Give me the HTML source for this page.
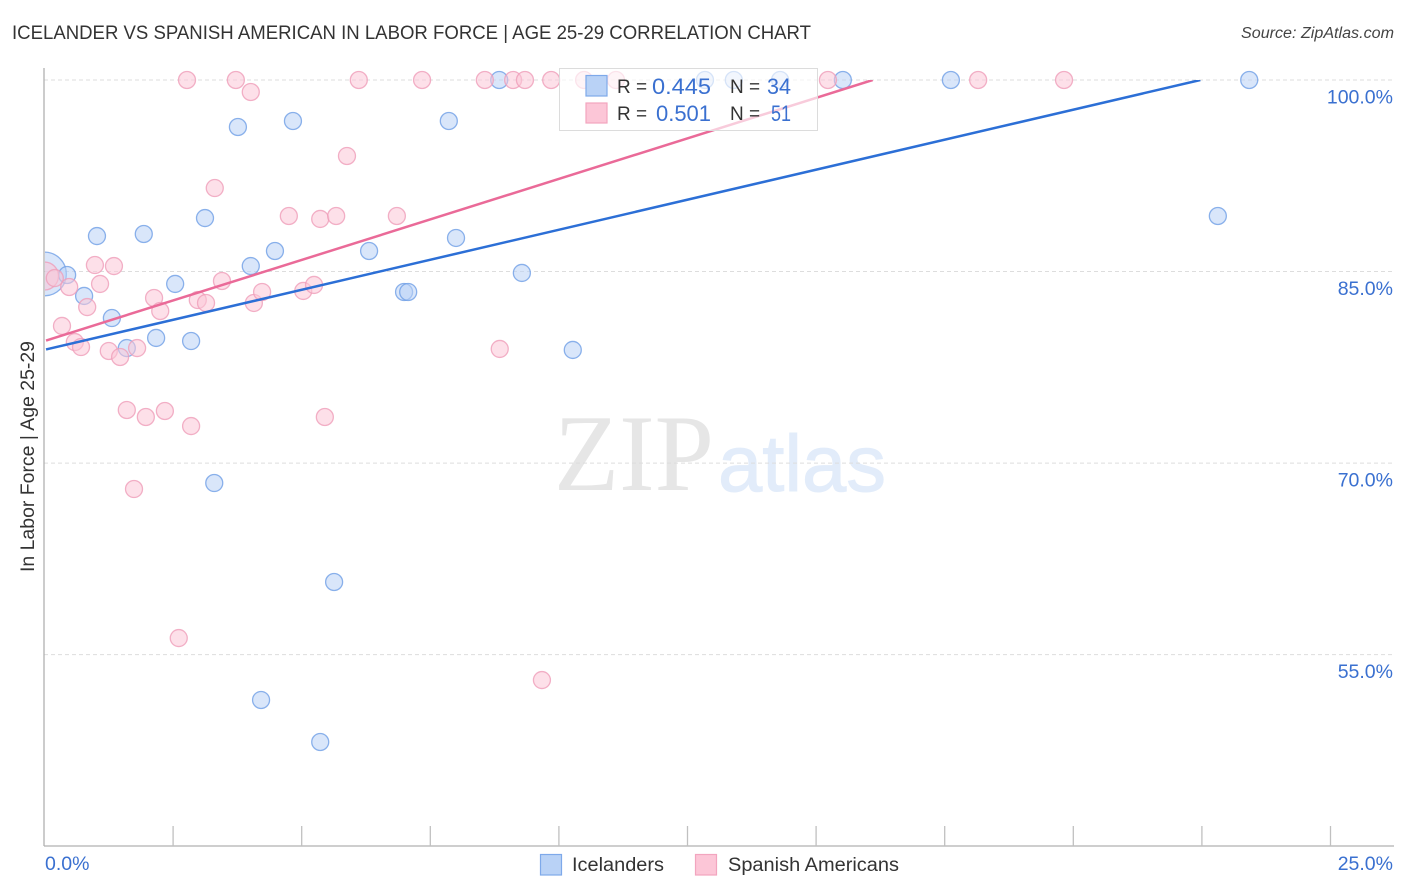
<!DOCTYPE html>
<html lang="en">
<head>
<meta charset="utf-8">
<title>Icelander vs Spanish American in Labor Force | Age 25-29 Correlation Chart</title>
<style>
html,body{margin:0;padding:0;background:#fff;width:1406px;height:892px;overflow:hidden}
svg{display:block;font-family:"Liberation Sans",sans-serif}
</style>
</head>
<body>
<svg id="chart" xmlns="http://www.w3.org/2000/svg" width="1406" height="892" viewBox="0 0 1406 892">
  <defs>
    <clipPath id="plot-clip"><rect x="45" y="80" width="1349" height="766"/></clipPath>
    <clipPath id="point-clip"><rect x="45" y="60" width="1349" height="786"/></clipPath>
  </defs>
  <text x="12" y="39" font-size="19" fill="#333" textLength="799" lengthAdjust="spacingAndGlyphs">ICELANDER VS SPANISH AMERICAN IN LABOR FORCE | AGE 25-29 CORRELATION CHART</text>
  <text x="1394" y="38" font-size="15.5" font-style="italic" fill="#444" text-anchor="end" textLength="153" lengthAdjust="spacingAndGlyphs">Source: ZipAtlas.com</text>
  <g id="watermark">
    <text x="554" y="490" font-family="'Liberation Serif',serif" font-size="109" fill="#e6e6e6" textLength="160" lengthAdjust="spacingAndGlyphs">ZIP</text>
    <text x="718" y="491" font-size="80" fill="#e2ecfa" stroke="#e2ecfa" stroke-width="1" textLength="168" lengthAdjust="spacingAndGlyphs">atlas</text>
  </g>
  <g id="grid"></g>
  <g id="points" clip-path="url(#point-clip)"></g>
  <rect x="0" y="240" width="44" height="70" fill="#fff"/>
  <g id="axes"></g>
  <g id="trends" clip-path="url(#plot-clip)"></g>
  <g id="stat-legend">
    <rect x="559.5" y="68.5" width="258" height="62" fill="#fff" fill-opacity="0.65" stroke="#dcdcdc" stroke-width="1"/>
    <rect x="586" y="75.5" width="21" height="20.5" fill="#b9d2f6" stroke="#7ea9ea" stroke-width="1.2"/>
    <rect x="586" y="103" width="21" height="20" fill="#fcc6d7" stroke="#f2a5bf" stroke-width="1.2"/>
    <text x="617" y="93" font-size="19" fill="#333">R =</text>
    <text x="652" y="94" font-size="22" fill="#3a70d0" textLength="59" lengthAdjust="spacingAndGlyphs">0.445</text>
    <text x="730" y="93" font-size="19" fill="#333">N =</text>
    <text x="767" y="94" font-size="22" fill="#3a70d0" textLength="24" lengthAdjust="spacingAndGlyphs">34</text>
    <text x="617" y="120" font-size="19" fill="#333">R =</text>
    <text x="656" y="121" font-size="22" fill="#3a70d0" textLength="55" lengthAdjust="spacingAndGlyphs">0.501</text>
    <text x="730" y="120" font-size="19" fill="#333">N =</text>
    <text x="771" y="121" font-size="22" fill="#3a70d0" textLength="20" lengthAdjust="spacingAndGlyphs">51</text>
  </g>
  <text transform="translate(34,572) rotate(-90)" font-size="19" fill="#333" textLength="231" lengthAdjust="spacingAndGlyphs">In Labor Force | Age 25-29</text>
  <g id="bottom-legend">
    <rect x="540.5" y="854.5" width="21" height="20.5" fill="#b9d2f6" stroke="#7ea9ea" stroke-width="1.2"/>
    <text x="572" y="871" font-size="19" fill="#333" textLength="92" lengthAdjust="spacingAndGlyphs">Icelanders</text>
    <rect x="695.5" y="854.5" width="21" height="20.5" fill="#fcc6d7" stroke="#f2a5bf" stroke-width="1.2"/>
    <text x="728" y="871" font-size="19" fill="#333" textLength="171" lengthAdjust="spacingAndGlyphs">Spanish Americans</text>
  </g>
</svg>
<script>
const blueX = [0,0.44,0.77,1.02,1.31,1.60,1.93,2.17,2.54,2.85,3.12,3.30,3.76,4.01,4.21,4.48,4.83,5.36,5.63,6.31,6.99,7.07,7.86,8.00,8.84,9.28,10.27,12.84,13.40,14.30,15.52,17.62,22.81,23.42];
const blueY = [84.81,84.73,83.09,87.78,81.36,79.01,87.94,79.80,84.03,79.56,89.19,68.44,96.32,85.43,51.45,86.61,96.79,48.16,60.69,86.61,83.40,83.40,96.79,87.63,100,84.89,78.86,100,100,100,100,100,89.35,100];
const blueWeight = [6.6,1,1,1,1,1,1,1,1,1,1,1,1,1,1,1,1,1,1,1,1,1,1,1,1,1,1,1,1,1,1,1,1,1];
const pinkX = [0,0.20,0.34,0.48,0.59,0.71,0.83,0.98,1.08,1.25,1.35,1.47,1.60,1.74,1.80,1.97,2.13,2.25,2.34,2.61,2.77,2.85,2.98,3.14,3.31,3.45,3.72,4.01,4.07,4.23,4.75,5.03,5.24,5.36,5.45,5.67,5.88,6.11,6.85,7.34,8.56,8.85,9.11,9.34,9.67,9.85,10.49,11.11,15.23,18.15,19.82];
const pinkY = [84.65,84.49,80.74,83.79,79.48,79.09,82.22,85.51,84.03,78.78,85.43,78.31,74.16,67.97,79.01,73.61,82.93,81.91,74.08,56.30,100,72.90,82.77,82.54,91.54,84.26,100,99.06,82.54,83.40,89.35,83.48,83.95,89.12,73.61,89.35,94.05,100,89.35,100,100,78.94,100,100,53.01,100,100,100,100,100,100];
const pinkWeight = [2.7,1,1,1,1,1,1,1,1,1,1,1,1,1,1,1,1,1,1,1,1,1,1,1,1,1,1,1,1,1,1,1,1,1,1,1,1,1,1,1,1,1,1,1,1,1,1,1,1,1,1];
const blueTrendX = [0.03,22.47];
const blueTrendY = [78.9,100];
const pinkTrendX = [0.03,16.1];
const pinkTrendY = [79.6,100];
const xTickValues = [0,2.5,5,7.5,10,12.5,15,17.5,20,22.5,25];
const xTickLabels = ["0.0%","","","","","","","","","","25.0%"];
const yTickValues = [100,85,70,55];
const yTickLabels = ["100.0%","85.0%","70.0%","55.0%"];

const NS = "http://www.w3.org/2000/svg";
function xScale(v){ return 44.5 + v * 51.44; }
function yScale(v){ return 80 + (100 - v) * 12.77; }
function make(tag, parent, attrs){
  const el = document.createElementNS(NS, tag);
  for (const k in attrs) el.setAttribute(k, attrs[k]);
  parent.appendChild(el);
  return el;
}
const gridG = document.getElementById("grid");
const axesG = document.getElementById("axes");
const pointsG = document.getElementById("points");
const trendsG = document.getElementById("trends");

yTickValues.forEach(function(v, i){
  const y = yScale(v);
  const line = make("line", gridG, {x1:44, x2:1394, y1:y, y2:y, stroke:"#dddddd", "stroke-width":1, "stroke-dasharray":"4 3"});
  
  
  const t = make("text", axesG, {x:1393, y:y + 23.5, "font-size":19.5, fill:"#3a70d0", "text-anchor":"end"});
  t.textContent = yTickLabels[i];
  
  
});

const yAxis = make("line", axesG, {x1:44, x2:44, y1:68, y2:846, stroke:"#b0b0b0", "stroke-width":1.3});


const xAxis = make("line", axesG, {x1:44, x2:1394, y1:846, y2:846, stroke:"#b0b0b0", "stroke-width":1.3});



xTickValues.forEach(function(v, i){
  const x = xScale(v);
  if (i > 0) {
    const tick = make("line", axesG, {x1:x, x2:x, y1:826, y2:846, stroke:"#c0c0c0", "stroke-width":1.3});
    
    
  }
  if (xTickLabels[i]) {
    const last = i === xTickValues.length - 1;
    const t = make("text", axesG, {x: last ? 1393 : 45, y:870, "font-size":19.5, fill:"#3a70d0", "text-anchor": last ? "end" : "start"});
    t.textContent = xTickLabels[i];
    
    
  }
});

function drawPoints(xs, ys, weights, fill, stroke, name){
  xs.forEach(function(v, i){
    const c = make("circle", pointsG, {cx:xScale(v), cy:yScale(ys[i]), r:8.5 * Math.sqrt(weights[i]), fill:fill, "fill-opacity":0.55, stroke:stroke, "stroke-opacity":0.8, "stroke-width":1.3});
    
    
  });
}
drawPoints(blueX, blueY, blueWeight, "#b9d2f6", "#6f9fe6", "icelanders-point");
drawPoints(pinkX, pinkY, pinkWeight, "#fcc6d7", "#ef9db9", "spanish-americans-point");

function drawTrend(xs, ys, color, name){
  const line = make("line", trendsG, {x1:xScale(xs[0]), y1:yScale(ys[0]), x2:xScale(xs[1]), y2:yScale(ys[1]), stroke:color, "stroke-width":2.5});
  
  
}
drawTrend(blueTrendX, blueTrendY, "#2c6fd6", "icelanders-trend-line");
drawTrend(pinkTrendX, pinkTrendY, "#ea6a98", "spanish-americans-trend-line");
</script>
</body>
</html>
